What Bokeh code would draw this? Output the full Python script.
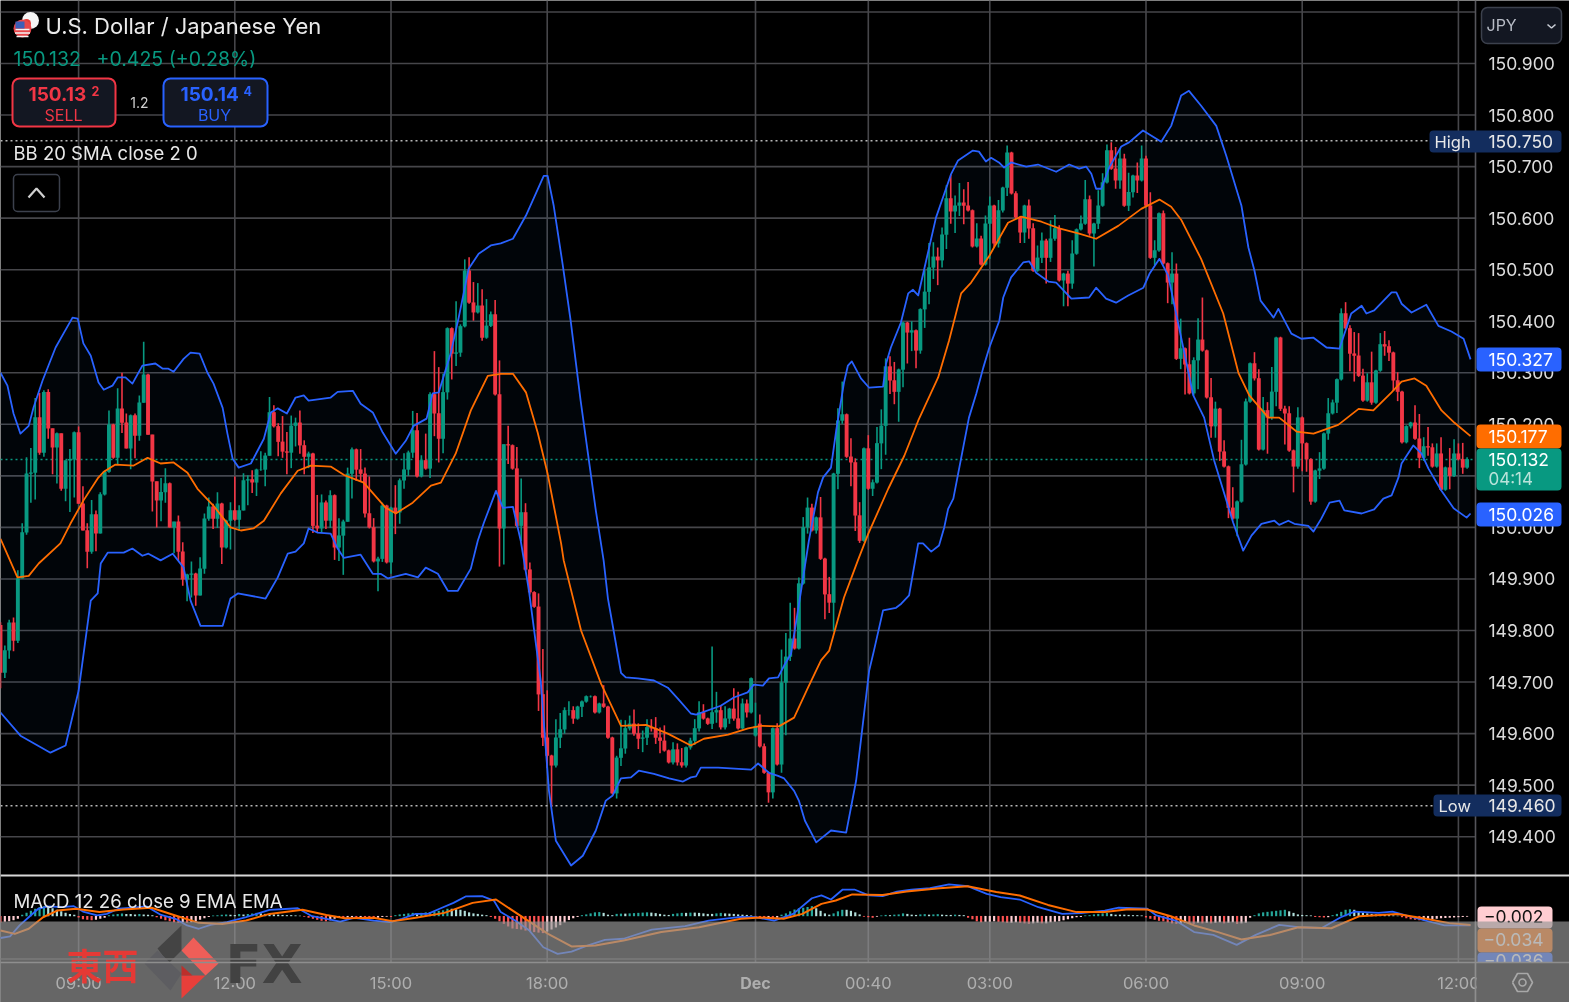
from bokeh.plotting import figure
from bokeh.models import Range1d, BoxAnnotation, Label
from bokeh.core.properties import value
from bokeh.embed import file_html
from bokeh.resources import INLINE
import numpy as np

# ---------- candles (USD/JPY, 5 minute bars) ----------
first_open = 149.810
open_gaps = {174: 149.596, 175: 149.619}
close = [
149.718,149.761,149.815,149.780,149.901,149.990,150.104,150.106,150.213,150.145,
150.262,150.192,150.155,150.182,150.075,150.130,150.132,150.184,150.046,149.994,
149.953,150.025,149.988,150.064,150.108,150.199,150.135,150.230,150.203,150.153,
150.217,150.178,150.242,150.296,150.180,150.089,150.052,150.068,150.085,150.000,
150.011,149.953,149.899,149.908,149.910,149.868,149.920,150.017,150.040,150.017,
150.046,149.961,150.013,150.033,150.015,150.033,150.091,150.093,150.087,150.112,
150.112,150.139,150.223,150.196,150.166,150.147,150.145,150.197,150.203,150.159,
150.137,150.143,150.003,149.998,150.048,150.013,150.062,149.961,149.984,150.011,
150.104,150.151,150.112,150.104,150.027,150.000,149.934,149.939,150.042,149.932,
150.038,150.029,150.091,150.112,150.145,150.188,150.099,150.130,150.114,150.258,
150.221,150.172,150.262,150.386,150.337,150.339,150.390,150.498,150.436,150.417,
150.430,150.368,150.391,150.413,150.258,149.998,150.161,150.159,150.114,150.003,
150.029,149.918,149.874,149.846,149.676,149.592,149.557,149.538,149.592,149.608,
149.645,149.645,149.629,149.652,149.662,149.672,149.672,149.641,149.658,149.652,
149.592,149.484,149.553,149.571,149.610,149.619,149.600,149.590,149.592,149.612,
149.610,149.592,149.586,149.567,149.544,149.569,149.544,149.538,149.573,149.586,
149.610,149.641,149.629,149.619,149.641,149.645,149.612,149.629,149.648,149.629,
149.610,149.658,149.641,149.707,149.614,149.575,149.524,149.486,149.610,149.540,
149.699,149.749,149.784,149.765,149.891,150.000,150.038,149.994,150.019,149.939,
149.870,149.854,150.104,150.207,150.219,150.137,150.126,150.023,149.974,150.153,
150.075,150.087,150.163,150.197,150.312,150.285,150.263,150.306,150.397,150.378,
150.382,150.343,150.423,150.457,150.504,150.525,150.518,150.568,150.638,150.613,
150.624,150.630,150.624,150.615,150.545,150.560,150.510,150.589,150.624,150.551,
150.615,150.659,150.727,150.648,150.601,150.572,150.624,150.580,150.498,150.523,
150.556,150.523,150.560,150.580,150.479,150.492,150.473,150.531,150.578,150.589,
150.636,150.570,150.589,150.624,150.669,150.731,150.696,150.673,150.715,150.624,
150.650,150.682,150.673,150.715,150.624,150.523,150.537,150.609,150.512,150.475,
150.492,150.327,150.347,150.316,150.260,150.324,150.364,150.343,150.252,150.196,
150.230,150.147,150.118,150.038,150.017,150.050,150.122,150.244,150.318,150.289,
150.151,150.227,150.213,150.263,150.368,150.230,150.221,150.149,150.118,150.213,
150.163,150.132,150.050,150.110,150.114,150.182,150.221,150.242,150.287,150.415,
150.386,150.337,150.333,150.294,150.246,150.281,150.242,150.304,150.355,150.351,
150.339,150.285,150.263,150.165,150.196,150.203,150.172,150.135,150.157,150.155,
150.118,150.143,150.073,150.116,150.100,150.143,150.132,150.116,150.132]
# wick lengths above / below the body, thousandths of a yen
wick_up = [
6,10,6,10,16,18,32,48,38,48,4,6,0,2,0,0,20,2,12,34,
14,28,8,4,2,28,2,40,70,18,2,4,14,64,2,0,0,28,30,2,
0,12,18,2,24,2,22,10,18,6,22,2,2,16,66,10,14,8,18,2,
36,6,30,14,6,50,38,20,10,24,10,4,2,60,16,4,10,2,34,4,
12,4,2,40,12,72,18,4,6,2,2,44,4,32,4,38,34,10,52,4,
84,90,36,2,2,100,4,22,26,40,44,32,52,6,28,66,0,36,2,42,
66,18,14,2,26,88,92,2,36,32,6,18,8,2,2,2,2,2,2,36,
2,2,4,56,16,16,28,20,14,16,16,22,20,30,2,14,12,28,2,6,
18,22,16,2,128,36,10,24,2,40,52,10,8,2,46,18,6,2,2,10,
64,46,70,60,12,20,20,8,2,40,2,34,2,24,64,2,36,8,26,2,
26,6,32,32,16,20,36,2,2,2,18,2,2,42,48,28,18,14,26,46,
20,38,26,46,2,30,6,16,18,2,20,2,14,2,4,2,2,12,10,24,
16,4,36,26,6,2,6,26,2,16,38,8,2,30,18,12,16,42,20,10,
38,2,26,26,6,26,20,2,6,2,42,20,58,2,52,6,42,82,2,38,
14,2,22,2,40,2,48,6,2,22,18,26,16,48,2,2,6,14,2,20,
2,2,2,2,32,2,30,6,2,10,22,6,42,44,14,18,60,2,22,26,
12,2,16,2,2,2,34,48,18,38,8,20,32,2,38,28,20,32,4]
wick_down = [
30,10,16,20,4,0,4,56,52,4,8,20,52,70,4,24,100,74,0,0,
32,4,34,0,2,2,2,12,20,0,40,44,10,0,0,58,52,40,20,0,
50,18,12,42,44,20,0,10,4,20,18,32,2,56,2,22,0,48,20,26,
2,32,0,2,28,12,42,30,40,16,34,22,14,8,8,16,14,24,26,76,
0,48,22,14,8,2,2,58,6,2,22,42,22,16,12,10,2,2,2,18,
44,46,28,14,50,24,8,2,2,16,2,6,2,2,2,74,70,36,2,2,
30,2,4,2,32,16,24,80,4,20,8,10,10,2,20,2,2,2,2,2,
2,2,10,16,10,4,4,20,26,14,6,12,24,2,2,4,6,4,4,4,
8,6,2,2,10,20,4,4,10,4,2,2,10,2,2,2,2,20,12,2,
16,102,8,2,2,2,12,2,6,2,48,20,56,30,6,2,46,30,4,2,
2,14,2,50,56,26,24,58,34,60,36,34,6,36,24,22,48,14,28,24,
42,20,36,2,2,2,2,2,68,8,8,4,16,2,2,20,20,20,2,2,
10,50,8,4,2,50,44,10,2,2,2,4,64,10,2,2,2,16,16,2,
10,10,24,2,2,2,14,2,2,40,42,2,20,58,2,4,56,2,2,22,
22,18,2,20,2,34,2,2,2,4,2,2,70,4,28,4,60,2,50,4,
54,24,6,2,16,2,12,2,20,2,2,34,50,2,2,2,4,2,2,18,
16,20,18,2,2,4,2,20,6,16,2,2,2,2,26,2,2,12,2]

# ---------- Bollinger Bands ----------
upper_t = [0,1.6,3,4.6,6.5,7.6,9.7,12.7,14.5,16.6,17.8,19.1,20.8,22.6,23.8,25.8,27,28.8,30.4,32.7,35.7,37.4,38.7,39.9,42.2,43.8,45.9,47.7,49.1,51.2,52.3,53.5,54.9,57.7,60.7,62.3,63.9,66,68,69.9,71,76.1,77.7,81.2,83,85.8,88.1,91.1,93.4,95.2,98.2,99.6,101,103.8,105.6,107.9,110.2,113,115.3,118.1,121.1,125.2,126.1,127.5,129.6,131.4,133.7,137.2,139,140,141.3,143,144.1,146.9,150.6,153.8,156.1,159.1,160.3,166,169,172.2,173.6,175.7,177.1,179.2,180.6,182.2,184.5,186.3,188.4,189.6,191.4,192.6,194.4,195.3,196.2,198.3,200.2,203.4,204.1,205.2,207.5,209.2,210.3,211.5,212.8,215.6,219.1,220.7,224.1,225.5,227.1,228.3,230.1,231.3,232.9,236.4,239.1,243.3,246.3,248.6,250.2,251.4,252.5,253.7,255.5,258.3,260.1,263.3,267.5,269.8,272.1,273.9,276.7,280.2,282.5,286,287.6,289,290.4,293.4,294.5,297.5,299.8,302.6,305.6,308.6,311.3,313.7,314.8,316.6,320.6,321.7,322.9,325.2,328.6,331.4,334.4,337.2,338.8]
upper = [150.300,150.275,150.221,150.182,150.197,150.232,150.285,150.349,150.376,150.407,150.405,150.357,150.333,150.281,150.267,150.275,150.291,150.291,150.279,150.314,150.318,150.308,150.308,150.302,150.327,150.339,150.337,150.300,150.279,150.232,150.182,150.133,150.116,150.124,150.172,150.223,150.231,150.221,150.252,150.256,150.246,150.252,150.263,150.265,150.240,150.223,150.184,150.143,150.168,150.197,150.211,150.260,150.262,150.339,150.407,150.502,150.531,150.547,150.551,150.560,150.605,150.682,150.682,150.624,150.508,150.401,150.246,150.033,149.936,149.862,149.800,149.718,149.709,149.707,149.703,149.689,149.668,149.639,149.637,149.654,149.670,149.680,149.695,149.693,149.707,149.709,149.732,149.755,149.877,149.974,150.068,150.097,150.116,150.188,150.281,150.314,150.322,150.289,150.271,150.273,150.318,150.349,150.397,150.454,150.461,150.450,150.498,150.601,150.686,150.712,150.731,150.729,150.710,150.717,150.708,150.698,150.708,150.700,150.704,150.690,150.704,150.696,150.700,150.686,150.657,150.657,150.698,150.739,150.747,150.770,150.748,150.779,150.838,150.847,150.818,150.779,150.721,150.624,150.543,150.498,150.440,150.407,150.424,150.376,150.366,150.368,150.349,150.347,150.415,150.430,150.415,150.421,150.456,150.456,150.434,150.417,150.432,150.391,150.380,150.366,150.326]
middle_t = [0,1.2,3.9,6.5,8.8,13.8,16.1,19.1,22.4,23.8,26.5,30.7,33.9,36.9,39.9,43.1,45.4,49.1,53,55.4,58.3,60.7,64.6,68.5,71.5,76.1,79.1,83.7,88.8,91.1,95,99.2,101.5,104.9,108.4,112.3,115.3,118.1,121.1,123.8,126.1,129.2,129.8,133.8,138.4,143,148.8,153.8,159.1,162.1,167.7,172.3,175.3,179.4,182.9,186.1,189.1,191,194.4,197.6,200,204.6,208.3,211.5,216.1,218.6,221.4,223.7,227.9,232.2,235.2,239.9,244,248.6,252.5,257.6,262.9,267.1,269.8,272.1,276.7,281.8,285.3,287.8,292.2,294.7,298.7,302.6,308.3,313,316.4,320.6,322.9,325.9,328.6,332.1,335.1,338.8]
middle = [149.978,149.955,149.903,149.906,149.930,149.969,150.007,150.052,150.095,150.108,150.122,150.120,150.135,150.124,150.126,150.106,150.075,150.042,150.000,149.994,149.998,150.013,150.066,150.110,150.120,150.118,150.102,150.087,150.038,150.027,150.048,150.081,150.087,150.143,150.227,150.294,150.298,150.298,150.262,150.184,150.104,149.969,149.936,149.800,149.697,149.615,149.617,149.600,149.577,149.590,149.598,149.610,149.615,149.614,149.631,149.689,149.742,149.761,149.864,149.936,149.988,150.075,150.139,150.207,150.291,150.362,150.454,150.475,150.527,150.591,150.603,150.593,150.580,150.570,150.560,150.585,150.618,150.636,150.622,150.597,150.521,150.415,150.300,150.256,150.213,150.213,150.186,150.182,150.199,150.230,150.227,150.262,150.283,150.289,150.275,150.227,150.203,150.177]
lower_t = [0,4.6,11.5,15,18,20.8,22.4,23.1,24.7,28.4,30.4,32.7,34.1,36.9,39.7,42.2,43.8,46.1,51.2,53,54.7,61.1,63.9,66.2,68,69.9,71,73.1,76.1,77.7,79.1,83,85.8,87.6,89.3,93.4,96.2,98,100.8,103.1,105.4,108.4,110,111.4,114.2,115.8,118.1,119.9,121.8,124.5,126.4,128,131.5,134.2,137.2,139.5,141.1,143,145.3,147.1,150.6,154.1,157.3,159.1,160.3,161.4,165.4,173,174.6,177.1,179.2,180.6,182.9,184,185.4,188,191.4,194.9,197.2,200.2,201.3,203.4,206.4,207.6,209.4,211.5,212.6,214.5,216.3,217.5,218.4,219.6,220.7,223.2,224.9,226.5,227.9,230.2,231.1,232.9,235.7,237.1,238.7,241.5,243.3,246.8,250.9,252.5,254.8,257.1,259.9,263.4,264.8,267.1,269.1,274.9,277.4,279.7,284.1,286.4,288.3,290.6,293.6,294.7,296.8,298.2,301.4,302.6,304.4,306.3,308.6,309.7,313.7,316.6,318.7,320.6,322.2,322.9,325.6,327.5,329.1,332.1,334.9,337.9,338.8]
lower = [149.641,149.596,149.563,149.577,149.683,149.858,149.872,149.930,149.951,149.951,149.959,149.945,149.949,149.936,149.949,149.922,149.858,149.809,149.809,149.862,149.872,149.862,149.903,149.949,149.953,149.969,149.998,149.990,149.988,149.959,149.941,149.947,149.910,149.910,149.901,149.910,149.903,149.922,149.910,149.877,149.877,149.920,149.974,150.009,150.071,150.038,150.040,149.974,149.877,149.703,149.489,149.392,149.344,149.363,149.412,149.470,149.480,149.513,149.515,149.528,149.522,149.513,149.507,149.515,149.517,149.534,149.534,149.530,149.542,149.524,149.518,149.513,149.489,149.470,149.431,149.389,149.412,149.408,149.509,149.722,149.761,149.839,149.844,149.852,149.868,149.969,149.969,149.953,149.965,150.000,150.036,150.056,150.104,150.213,150.260,150.310,150.349,150.401,150.446,150.485,150.514,150.516,150.494,150.477,150.475,150.444,150.446,150.465,150.444,150.436,150.450,150.465,150.492,150.521,150.489,150.256,150.213,150.130,150.009,149.955,149.984,150.007,150.013,150.005,150.013,150.007,150.003,149.992,150.017,150.048,150.052,150.033,150.027,150.035,150.056,150.062,150.097,150.124,150.159,150.143,150.114,150.071,150.037,150.019,150.027]

# ---------- MACD ----------
macd_t = [0,2.2,4.4,6.5,8.7,10.9,14.1,16.9,19,22.3,24.5,27.2,30.5,33.7,37,40.3,43,45.7,48.4,52.2,56.6,62,68.5,71.8,75.1,78.3,81.6,86,89.8,92.5,95.7,98.5,101.2,104.4,107.2,111,113.7,115.3,118.6,121.9,125.1,128.4,131.6,134.9,139.3,143.6,150.1,157.8,163.2,170.6,174,178.3,182.7,187,189.2,191.4,194.1,196.8,200.1,203.3,206.6,209.9,214.2,218.6,222.9,227.3,230.5,234.9,239.2,244.7,249,254.5,257.7,264.3,266.4,270.8,275.1,279.5,284.9,289.3,294.7,299.1,304.5,308.9,312.1,317.6,320.8,326.3,332.8,338.8]
macd = [-0.085,-0.079,-0.036,-0.004,0.029,0.038,0.035,0.039,0.018,0.003,0.009,0.029,0.033,0.038,0.005,-0.010,-0.036,-0.049,-0.034,-0.023,-0.004,0.025,0.031,0,-0.010,-0.021,-0.006,-0.017,-0.023,-0.010,0.009,0.009,0.029,0.052,0.077,0.078,0.061,0.016,-0.017,-0.056,-0.121,-0.147,-0.138,-0.117,-0.092,-0.088,-0.052,-0.039,-0.017,-0.003,-0.004,-0.017,0.009,0.070,0.081,0.065,0.104,0.104,0.081,0.078,0.096,0.104,0.109,0.124,0.117,0.087,0.074,0.065,0.035,0.009,0.012,0.022,0.033,0.029,0.003,-0.017,-0.062,-0.073,-0.112,-0.073,-0.034,-0.043,-0.046,-0.004,0.018,0.013,0.018,-0.008,-0.036,-0.036]
signal_t = [0,3.3,6.5,9.8,13.1,17.4,22.8,28.3,34.8,40.3,45.7,51.1,56.6,62,69.6,75.1,79.4,86,90.3,95.7,102.3,108.8,114.2,119.7,126.2,131.6,137.1,143.6,152.3,161,170.6,175.1,180.5,184.8,189.2,192.5,196.3,203.3,208.8,216.4,222.9,229.5,234.9,241.4,248,254.5,259.9,264.3,269.7,275.1,280.6,286,292.6,299.1,306.7,313.2,321.9,328.5,333.9,338.8]
signal = [-0.056,-0.069,-0.049,-0.004,0.022,0.029,0.016,0.026,0.033,0.003,-0.026,-0.030,-0.017,0.009,0.025,0.005,-0.008,-0.006,-0.020,-0.006,0.013,0.052,0.065,0.003,-0.069,-0.118,-0.114,-0.095,-0.062,-0.043,-0.010,-0.005,-0.010,0.009,0.048,0.061,0.085,0.083,0.096,0.109,0.117,0.094,0.081,0.044,0.016,0.016,0.027,0.026,0,-0.036,-0.062,-0.091,-0.073,-0.043,-0.047,0,0.009,-0.010,-0.027,-0.034]
# histogram, thousandths
hist = [
-25,-22,-20,-16,-10, 5,12,20,28,35,38, 36,30,24,18,12,8,5, -5,-12,-14,-16,-14,-10,-6,
3,6,8,10,8,8,6,8,6,5,3, -4,-10,-16,-20,-24,-26,-24,-26,-24,-20,-14,-8, -3,2,3,5,6,5,4,8,6,
8,10,12,10,8,8,6,5,4,3, 3,2,1,-2,-6,-10, -14,-18,-20,-16,-10,-6,-8,-5,
-3,-5,-3,-4,-6,-8,-6,-3,-2,-3, 3,6,8,10,12,10,12,14,15,17, 20,22,28,28,26,24,20,14,10,8,5,3,
-3,-10,-20,-30,-40,-48,-50,-52, -56,-58,-62,-64,-66,-60,-52,-44,-35,-25, -15,-8,-3,
3,6,10,14,15,12,5,3,8,9,9,10,11,12,13,14,13, 11,8,5,4,8,10,12,12,13,13,12,10,8,8,10,12,10,9,8,6,
5,4,2,-4,-6,-10,-10,-12,-6, 5,10,18,25,30,32, 35,38,30,20,10, 5,10,18,24,24,20,14,6,
-2,-4,-6,-2,2,4,3, 5,6,10,8,5,4,6,7,5,6,7,5,4,4,5,4,3,
-6,-12,-20,-24,-22,-22,-20,-22,-24,-26,-26,-24,-26,-28,-30,-28,-26,-28,-28,-24,-22,-20,-16,-12,-8,
-4,-3,2,3,6,8,10,12,8,5,5,5,4,3,3,2,
-5,-10,-14,-18,-20,-24,-28,-30,-30,-26,-28,-30,-26,-28,-26,-28,-26,-24,-28,-26,-24,-30,-28,-26,
-6,3,10,14,16,18,20,22,24,18,12,6,4,3,2,-3,-4,-5,-4,3, 8,16,24,26,24,18,12,
10,8,6,5,4,3,2,1, -4,-8,-12,-14,-16,-16,-14,-12,-10, -8,-7,-6,-5,-4,-3,-2]

# ---------- axis labels ----------
price_ticks = [150.9,150.8,150.7,150.6,150.5,150.4,150.3,150.2,150.1,150.0,149.9,149.8,149.7,149.6,149.5,149.4]
time_ticks = [18,54,90,126,174,200,228,264,300,336]
time_labels = ["09:00","12:00","15:00","18:00","Dec","00:40","03:00","06:00","09:00","12:00"]
FONT = "Inter"

# screen pixel -> data helpers (page coordinates)
KX = 4.339
def X(s): return s / KX
def Y(s): return 150.9 - (s - 63) * 0.00194
def MY(s): return (915.7 - s) * 0.0039

W, H = 1569, 1002
p = figure(width=W, height=H, x_range=Range1d(0, X(W)), y_range=Range1d(Y(H), Y(0)),
           output_backend="svg", toolbar_location=None,
           x_axis_location=None, y_axis_location=None, min_border=0,
           background_fill_color="black", border_fill_color="black",
           outline_line_color=None)
p.styles = {"position": "fixed", "left": "0px", "top": "0px"}
p.grid.visible = False
p.extra_y_ranges = {"macd": Range1d(MY(H), MY(0))}

GRID = "#46464a"
# grid
gy = [151.0] + price_ticks
p.segment(x0=[0]*len(gy), x1=[X(1475)]*len(gy), y0=gy, y1=gy, line_color=GRID, line_width=1.6)
p.segment(x0=time_ticks, x1=time_ticks, y0=[Y(0)]*len(time_ticks), y1=[Y(962)]*len(time_ticks),
          line_color=GRID, line_width=1.6)

# band fill
bx = list(upper_t) + list(lower_t)[::-1]
by = list(upper) + list(lower)[::-1]
p.patch(bx, by, fill_color="#2196f3", fill_alpha=0.035, line_color=None)

# price lines
for pv, col in [(150.750, "#b8b8b8"), (149.460, "#b8b8b8"), (150.132, "#089981")]:
    p.line([0, X(1475)], [pv, pv], line_color=col, line_dash="2 3", line_width=1.5)

# candles
c = np.array(close)
o = np.r_[first_open, c[:-1]]
for k, v in open_gaps.items():
    o[k] = v
idx = np.arange(len(c))
hi = np.maximum(o, c) + np.array(wick_up) / 1000
lo = np.minimum(o, c) - np.array(wick_down) / 1000
col = np.where(c >= o, "#089981", "#f23645")
p.segment(idx, lo, idx, hi, line_color=col.tolist(), line_width=1.6)
p.vbar(x=idx, bottom=np.minimum(o, c), top=np.maximum(o, c) + 0.0005, width=0.9,
       fill_color=col.tolist(), line_color=None)

# bands
p.line(upper_t, upper, line_color="#2962ff", line_width=1.8, line_join="round")
p.line(lower_t, lower, line_color="#2962ff", line_width=1.8, line_join="round")
p.line(middle_t, middle, line_color="#ff6d00", line_width=1.8, line_join="round")

# MACD pane: histogram colours follow rising / falling state
h = np.array(hist) / 1000
hcol = []
for i, v in enumerate(h):
    prev = h[i-1] if i else 0
    if v >= 0:
        hcol.append("#26a69a" if v > prev else "#b2dfdb")
    else:
        hcol.append("#ff5252" if v < prev else "#ffcdd2")
p.vbar(x=np.arange(len(h)), bottom=np.minimum(h, 0), top=np.maximum(h, 0) + 0.001, width=0.5,
       fill_color=hcol, line_color=None, y_range_name="macd")
p.line(macd_t, macd, line_color="#2962ff", line_width=1.8, line_join="round", y_range_name="macd")
p.line(signal_t, signal, line_color="#ff6d00", line_width=2, line_join="round", y_range_name="macd")

# separators
p.segment([X(1475)], [Y(0)], [X(1475)], [Y(H)], line_color="#55555a", line_width=1.6)
p.segment([0], [Y(875)], [X(W)], [Y(875)], line_color="#d8d8d8", line_width=2)

# axis text
p.text(x=[X(1488)]*len(price_ticks), y=price_ticks, text=[f"{t:.3f}" for t in price_ticks],
       text_font=value(FONT), text_font_size="17.5px", text_color="#dcdcdc",
       text_baseline="middle", text_align="left")
ti = [i for i, s in enumerate(time_labels) if s != "Dec"]
p.text(x=[time_ticks[i] for i in ti], y=[Y(982)]*len(ti), text=[time_labels[i] for i in ti],
       text_font=value(FONT), text_font_size="16.5px", text_color="#dcdcdc",
       text_baseline="middle", text_align="center")
p.text(x=[time_ticks[4]], y=[Y(982)], text=["Dec"], text_font=value(FONT), text_font_style="bold",
       text_font_size="16px", text_color="#dcdcdc", text_baseline="middle", text_align="center")

def box(l, t, r, b, fill, line=None, radius=0, lw=1.5, level="annotation", alpha=1.0):
    a = BoxAnnotation(left=X(l), right=X(r), top=Y(t), bottom=Y(b), fill_color=fill, fill_alpha=alpha,
                      line_color=line, line_alpha=1.0, line_width=lw, border_radius=radius, level=level)
    p.add_layout(a)

def lbl(x, y, s, size, color, align="left", style="normal", font=FONT, level="annotation"):
    p.add_layout(Label(x=X(x), y=Y(y), text=s, text_font=font, text_font_size=f"{size}px",
                       text_color=color, text_align=align, text_baseline="middle",
                       text_font_style=style, level=level))

# MACD tags (under the watermark band)
box(1477, 906, 1552, 928, "#ffcdd2", radius=4)
lbl(1543, 916, "\u22120.002", 17.5, "#111111", align="right")
box(1477, 928, 1552, 952, "#ff6d00", radius=4)
lbl(1543, 939, "\u22120.034", 17.5, "#ffffff", align="right")
box(1477, 952, 1552, 975, "#2962ff", radius=4)
lbl(1543, 960, "\u22120.036", 17.5, "#ffffff", align="right")
# time-axis panel right of the pane
box(1476, 962, W, H, "black")
# watermark band
box(0, 921, W, H, "#979797", alpha=0.675)

# price tags
box(1429, 130, 1561, 152, "#132d5e", radius=4)
lbl(1434, 141, "High", 16.5, "#e8e8e8")
lbl(1488, 141, "150.750", 17.5, "#e8e8e8")
box(1433, 794, 1561, 816, "#132d5e", radius=4)
lbl(1438, 805, "Low", 16.5, "#e8e8e8")
lbl(1488, 805, "149.460", 17.5, "#e8e8e8")
box(1476, 347, 1561, 371, "#2962ff", radius=4)
lbl(1488, 359, "150.327", 17.5, "#ffffff")
box(1476, 502, 1561, 526, "#2962ff", radius=4)
lbl(1488, 514, "150.026", 17.5, "#ffffff")
box(1476, 424, 1561, 448, "#ff6d00", radius=4)
lbl(1488, 436, "150.177", 17.5, "#ffffff")
box(1476, 448, 1561, 490, "#089981", radius=4)
lbl(1488, 459, "150.132", 17.5, "#ffffff")
lbl(1488, 478, "04:14", 17, "#b9e3da")
# currency menu
box(1481, 7, 1561, 43, "#131722", line="#3c414d", radius=6)
lbl(1486, 24, "JPY", 16, "#b8bcc6")
p.line([X(1547), X(1551), X(1555)], [Y(24), Y(27.5), Y(24)], line_color="#c8ccd4", line_width=1.6, level="overlay")

# header
lbl(45, 25, "U.S. Dollar / Japanese Yen", 22, "#eaeaea")
lbl(13, 58, "150.132", 19.5, "#089981")
lbl(96, 58, "+0.425 (+0.28%)", 19.5, "#089981")
box(12, 78, 115, 126, "#131722", line="#f23645", radius=7, lw=2)
lbl(28, 93, "150.13", 19, "#f23645", style="bold")
lbl(91, 90, "2", 12.5, "#f23645", style="bold")
lbl(63, 114, "SELL", 16, "#f23645", align="center")
lbl(139, 102, "1.2", 14, "#cfcfcf", align="center")
box(163, 78, 267, 126, "#131722", line="#2962ff", radius=7, lw=2)
lbl(180, 93, "150.14", 19, "#2962ff", style="bold")
lbl(243, 90, "4", 12.5, "#2962ff", style="bold")
lbl(214, 114, "BUY", 16, "#2962ff", align="center")
lbl(13, 152, "BB 20 SMA close 2 0", 18.5, "#e8e8e8")
box(13, 174, 59, 211, "#000000", line="#3c414d", radius=4)
p.line([X(28), X(36), X(44)], [Y(197), Y(188), Y(197)], line_color="#d0d0d0", line_width=2.2, level="overlay")
lbl(13, 900, "MACD 12 26 close 9 EMA EMA", 18.6, "#e8e8e8")

# flag badges
p.scatter([X(30)], [Y(20)], size=17, fill_color="#f5f5f5", line_color=None, level="overlay")
p.scatter([X(26)], [Y(23)], size=9, fill_color="#e53935", line_color=None, level="overlay")
p.scatter([X(22)], [Y(28)], size=18, fill_color="#e8464a", line_color=None, level="overlay")
p.segment([X(15), X(14.5), X(16)], [Y(29), Y(32.5), Y(36)], [X(29), X(29.5), X(28)], [Y(29), Y(32.5), Y(36)],
          line_color="#f5f5f5", line_width=1.5, level="overlay")
p.quad(left=[X(15)], right=[X(24)], top=[Y(21)], bottom=[Y(28)], fill_color="#3d5fb8", line_color=None, level="overlay")

# watermark
p.text(x=[X(66)], y=[Y(963)], text=["\u6771\u897f"], text_font=value("Noto Sans CJK TC"), text_font_style="bold",
       text_font_size="36px", text_color="#e53935", text_baseline="middle", text_align="left", level="overlay")
def poly(pts, color):
    p.patch([X(a) for a, _ in pts], [Y(b) for _, b in pts], fill_color=color, line_color=None, level="overlay")
poly([(157, 948), (181, 925), (181, 950), (168, 963)], "#444444")
poly([(144, 963), (157, 950), (181, 973), (170, 990)], "#5d5d61")
poly([(181, 950), (193, 937), (218, 963), (205, 975)], "#ef5e58")
poly([(181, 975), (205, 975), (181, 998)], "#e83f3a")
poly([(181, 965), (192, 975), (181, 975)], "#bd2f2b")
p.text(x=[X(225)], y=[Y(964)], text=["FX"], text_font=value("DejaVu Sans"), text_font_style="bold",
       text_font_size="53px", text_color="#424242", text_baseline="middle", text_align="left", level="overlay")

# time-axis top border and settings glyph
p.segment([0], [Y(962)], [X(W)], [Y(962)], line_color="#8e8e8e", line_width=1.5, level="overlay")
p.segment([0], [Y(958.5)], [X(1475)], [Y(958.5)], line_color="#7b7b7b", line_width=1.5, level="overlay")
p.segment([X(1475)], [Y(921)], [X(1475)], [Y(H)], line_color="#8e8e8e", line_width=1.5, level="overlay")
hexx = [1512, 1517, 1527, 1532, 1527, 1517, 1512]
hexy = [982, 973, 973, 982, 991, 991, 982]
p.line([X(a) for a in hexx], [Y(b) for b in hexy], line_color="#a8a8a8", line_width=1.6, level="overlay")
p.scatter([X(1522)], [Y(982)], size=7, fill_color=None, line_color="#a8a8a8", line_width=1.6, level="overlay")

open("out.html", "w").write(file_html(p, INLINE))
